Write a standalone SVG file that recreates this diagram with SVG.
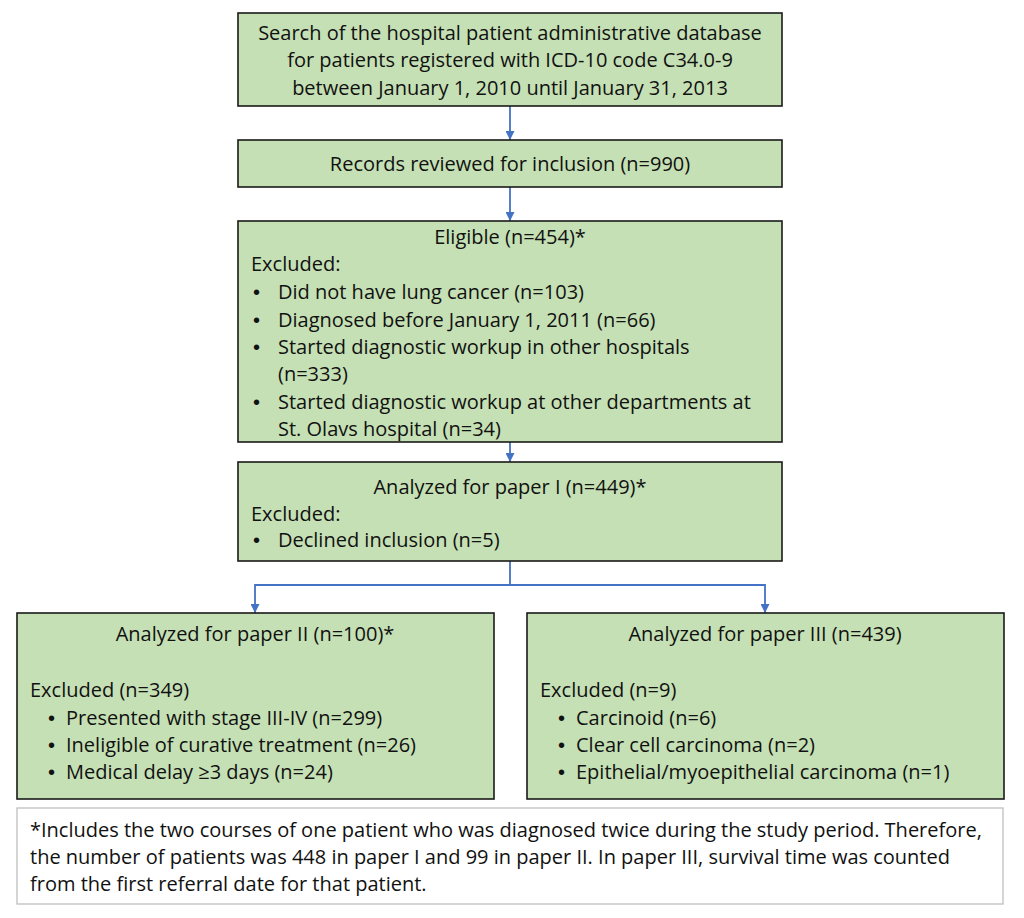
<svg xmlns="http://www.w3.org/2000/svg" width="1024" height="918" viewBox="0 0 1024 918">
<defs>
<style>
.box{fill:#C5E0B4;stroke:#1a1a1a;stroke-width:1.6}
.note{fill:#ffffff;stroke:#bfbfbf;stroke-width:1.3}
text{font-family:"Open Sans","Liberation Sans",Arial,sans-serif;font-size:20px;fill:#111}
.c{text-anchor:middle}
.b{font-family:"Liberation Sans",Arial,sans-serif;font-size:20px}
.conn{fill:none;stroke:#4472C4;stroke-width:1.8}
</style>
<marker id="ah" viewBox="0 0 10 10" refX="10" refY="5" markerWidth="5" markerHeight="5" markerUnits="strokeWidth" orient="auto">
<path d="M0,0 L10,5 L0,10 z" fill="#4472C4"/>
</marker>
</defs>
<rect width="1024" height="918" fill="#ffffff"/>
<g id="connectors">
<line class="conn" x1="510" y1="106" x2="510" y2="140" marker-end="url(#ah)"/>
<line class="conn" x1="510" y1="187" x2="510" y2="221" marker-end="url(#ah)"/>
<line class="conn" x1="510" y1="442" x2="510" y2="462" marker-end="url(#ah)"/>
<path class="conn" d="M510,561 V585 H255 V613" marker-end="url(#ah)"/>
<path class="conn" d="M510,585 H765 V613" marker-end="url(#ah)"/>
</g>
<g id="search">
<rect class="box" x="238" y="13" width="544" height="93"/>
<text class="c" x="510" y="40">Search of the hospital patient administrative database</text>
<text class="c" x="510" y="67">for patients registered with ICD-10 code C34.0-9</text>
<text class="c" x="510" y="95">between January 1, 2010 until January 31, 2013</text>
</g>
<g id="records">
<rect class="box" x="238" y="140" width="544" height="47"/>
<text class="c" x="510" y="171">Records reviewed for inclusion (n=990)</text>
</g>
<g id="eligible">
<rect class="box" x="238" y="221" width="544" height="221"/>
<text class="c" x="510" y="244">Eligible (n=454)*</text>
<text x="251" y="271">Excluded:</text>
<text class="b" x="253" y="299">•</text><text x="278" y="299">Did not have lung cancer (n=103)</text>
<text class="b" x="253" y="327">•</text><text x="278" y="327">Diagnosed before January 1, 2011 (n=66)</text>
<text class="b" x="253" y="354">•</text><text x="278" y="354">Started diagnostic workup in other hospitals</text>
<text x="278" y="381">(n=333)</text>
<text class="b" x="253" y="409">•</text><text x="278" y="409">Started diagnostic workup at other departments at</text>
<text x="278" y="436">St. Olavs hospital (n=34)</text>
</g>
<g id="paper1">
<rect class="box" x="238" y="462" width="544" height="99"/>
<text class="c" x="510" y="494">Analyzed for paper I (n=449)*</text>
<text x="251" y="521">Excluded:</text>
<text class="b" x="253" y="547">•</text><text x="278" y="547">Declined inclusion (n=5)</text>
</g>
<g id="paper2">
<rect class="box" x="17" y="613" width="477" height="186"/>
<text class="c" x="255" y="641">Analyzed for paper II (n=100)*</text>
<text x="30" y="697">Excluded (n=349)</text>
<text class="b" x="48" y="725">•</text><text x="66" y="725">Presented with stage III-IV (n=299)</text>
<text class="b" x="48" y="752">•</text><text x="66" y="752">Ineligible of curative treatment (n=26)</text>
<text class="b" x="48" y="779">•</text><text x="66" y="779">Medical delay ≥3 days (n=24)</text>
</g>
<g id="paper3">
<rect class="box" x="527" y="613" width="477" height="186"/>
<text class="c" x="765" y="641">Analyzed for paper III (n=439)</text>
<text x="540" y="697">Excluded (n=9)</text>
<text class="b" x="558" y="725">•</text><text x="576" y="725">Carcinoid (n=6)</text>
<text class="b" x="558" y="752">•</text><text x="576" y="752">Clear cell carcinoma (n=2)</text>
<text class="b" x="558" y="779">•</text><text x="576" y="779">Epithelial/myoepithelial carcinoma (n=1)</text>
</g>
<g id="footnote">
<rect class="note" x="17" y="808" width="986" height="96"/>
<text x="30" y="837">*Includes the two courses of one patient who was diagnosed twice during the study period. Therefore,</text>
<text x="30" y="864">the number of patients was 448 in paper I and 99 in paper II. In paper III, survival time was counted</text>
<text x="30" y="891">from the first referral date for that patient.</text>
</g>
</svg>
